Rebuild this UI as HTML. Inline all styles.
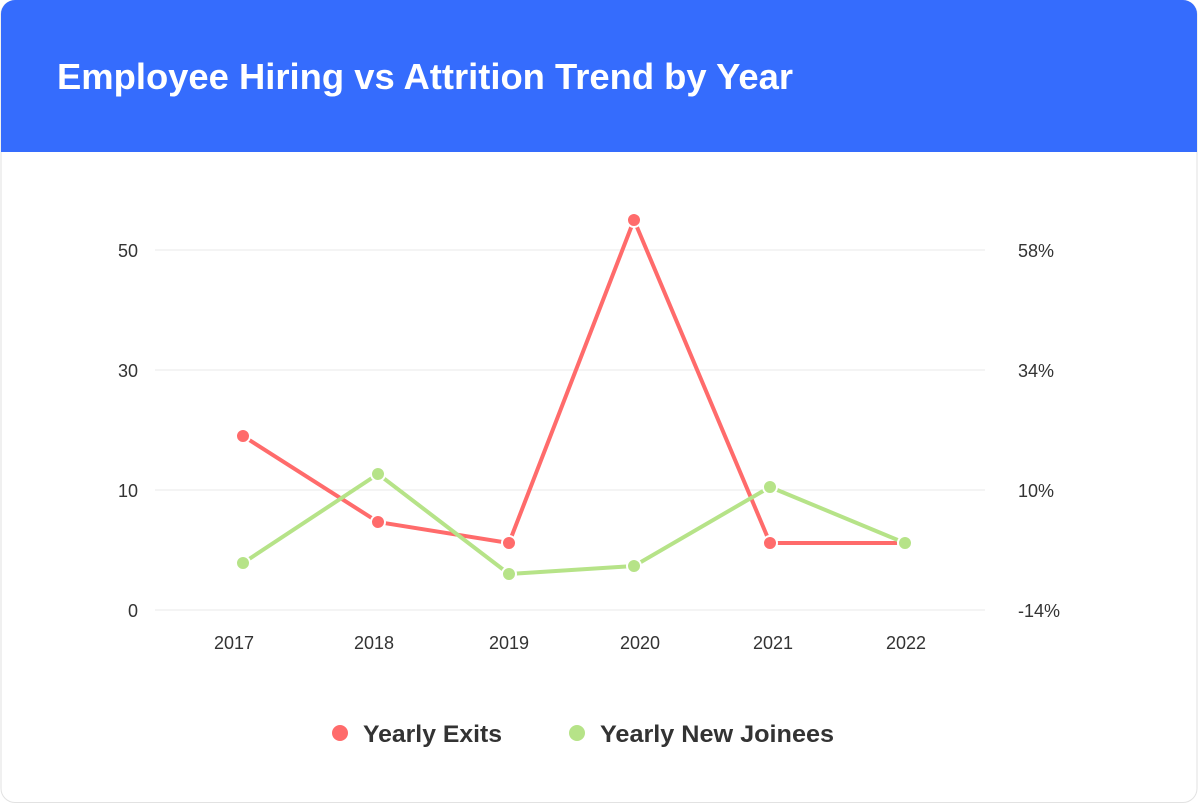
<!DOCTYPE html>
<html><head><meta charset="utf-8"><style>
html,body{margin:0;padding:0;background:#fff;}
svg{display:block;font-family:"Liberation Sans",sans-serif;}
</style></head><body>
<svg width="1198" height="804" viewBox="0 0 1198 804" xmlns="http://www.w3.org/2000/svg">
<defs><clipPath id="c"><rect x="1" y="0" width="1196" height="803" rx="14"/></clipPath></defs>
<rect x="1" y="0.5" width="1196" height="802" rx="14" fill="#fff" stroke="#e2e2e2"/>
<g clip-path="url(#c)"><rect x="0" y="0" width="1198" height="152" fill="#356cfd"/></g>
<text x="57" y="89" fill="#fff" font-size="36" font-weight="bold" textLength="736" lengthAdjust="spacingAndGlyphs">Employee Hiring vs Attrition Trend by Year</text>
<g stroke="#e8e8e8" stroke-width="1">
<line x1="155" y1="250" x2="985" y2="250"/><line x1="155" y1="370" x2="985" y2="370"/>
<line x1="155" y1="490" x2="985" y2="490"/><line x1="155" y1="610" x2="985" y2="610"/>
</g>
<g fill="#333" font-size="18">
<text x="138" y="257" text-anchor="end">50</text><text x="138" y="377" text-anchor="end">30</text>
<text x="138" y="497" text-anchor="end">10</text><text x="138" y="617" text-anchor="end">0</text>
<text x="1018" y="257">58%</text><text x="1018" y="377">34%</text>
<text x="1018" y="497">10%</text><text x="1018" y="617">-14%</text>
<g text-anchor="middle">
<text x="234" y="649">2017</text><text x="374" y="649">2018</text><text x="509" y="649">2019</text>
<text x="640" y="649">2020</text><text x="773" y="649">2021</text><text x="906" y="649">2022</text>
</g></g>
<polyline fill="none" stroke="#ff6b6b" stroke-width="4" stroke-linejoin="round" points="243,436 378,522 509,543 634,220 770,543 905,543"/>
<polyline fill="none" stroke="#b6e388" stroke-width="4" stroke-linejoin="round" points="243,563 378,474 509,574 634,566 770,487 905,543"/>
<g fill="#ff6b6b" stroke="#fff" stroke-width="2">
<circle cx="243" cy="436" r="7"/><circle cx="378" cy="522" r="7"/><circle cx="509" cy="543" r="7"/>
<circle cx="634" cy="220" r="7"/><circle cx="770" cy="543" r="7"/><circle cx="905" cy="543" r="7"/>
</g>
<g fill="#b6e388" stroke="#fff" stroke-width="2">
<circle cx="243" cy="563" r="7"/><circle cx="378" cy="474" r="7"/><circle cx="509" cy="574" r="7"/>
<circle cx="634" cy="566" r="7"/><circle cx="770" cy="487" r="7"/><circle cx="905" cy="543" r="7"/>
</g>
<circle cx="340" cy="733" r="8" fill="#ff6b6b"/>
<text x="363" y="742" font-size="24" font-weight="bold" fill="#333" textLength="139" lengthAdjust="spacingAndGlyphs">Yearly Exits</text>
<circle cx="577" cy="733" r="8" fill="#b6e388"/>
<text x="600" y="742" font-size="24" font-weight="bold" fill="#333" textLength="234" lengthAdjust="spacingAndGlyphs">Yearly New Joinees</text>
</svg>
</body></html>
